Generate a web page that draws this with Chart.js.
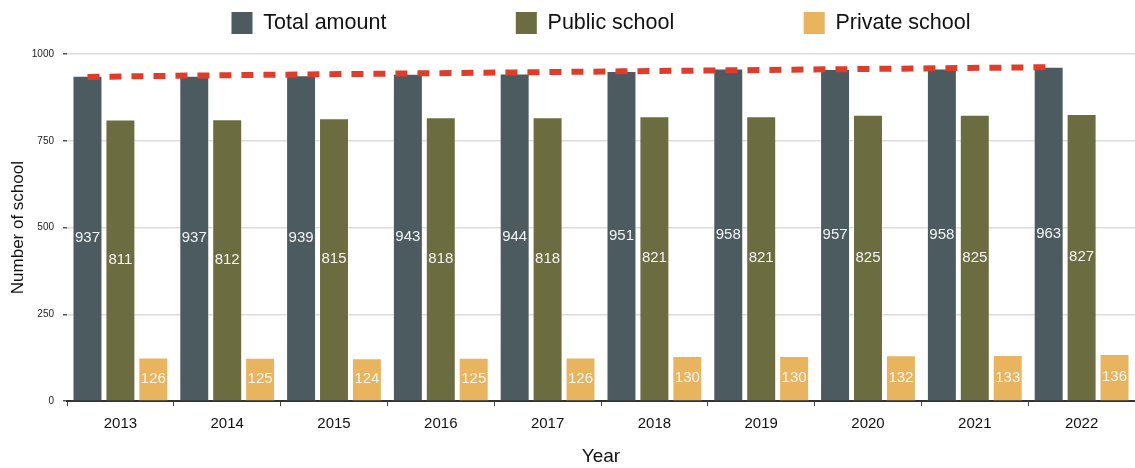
<!DOCTYPE html>
<html>
<head>
<meta charset="utf-8">
<script src="https://cdn.jsdelivr.net/npm/chart.js@4.4.0/dist/chart.umd.min.js"></script>
<style>
    html, body { margin: 0; padding: 0; background: #fff; }
    #wrap { width: 1135px; height: 468px; }
</style>
</head>
<body>
<div id="wrap"><canvas id="chart-schools"></canvas></div>
<script>
const years = ['2013', '2014', '2015', '2016', '2017', '2018', '2019', '2020', '2021', '2022'];
const totalAmount = [937, 937, 939, 943, 944, 951, 958, 957, 958, 963];
const publicSchool = [811, 812, 815, 818, 818, 821, 821, 825, 825, 827];
const privateSchool = [126, 125, 124, 125, 126, 130, 130, 132, 133, 136];
const totalTrend = [934, 938, 941, 944, 947, 950, 953, 956, 959, 962];
const yTicks = [0, 250, 500, 750, 1000];

const FONT = "'Liberation Sans', Arial, Helvetica, sans-serif";

// writes each bar's value in the middle of the bar
const barValues = {
    id: 'barValues',
    afterDatasetsDraw(chart) {
        const ctx = chart.ctx;
        ctx.save();
        ctx.font = '15px ' + FONT;
        ctx.fillStyle = '#f4f4f4';
        ctx.textAlign = 'center';
        ctx.textBaseline = 'middle';
        chart.data.datasets.forEach((ds, i) => {
            if (ds.type === 'line') return;
            const meta = chart.getDatasetMeta(i);
            meta.data.forEach((bar, j) => {
                ctx.fillText(String(ds.data[j]), bar.x, (bar.y + bar.base) / 2);
            });
        });
        ctx.restore();
    }
};

// the trend runs over the "Total amount" bars, not the category centres
const trendShift = {
    id: 'trendShift',
    beforeDatasetDraw(chart, args) {
        if (args.meta.type !== 'line') return;
        const bars = chart.getDatasetMeta(1).data;
        const dx = bars.length ? bars[0].x - chart.scales.x.getPixelForValue(0) : 0;
        chart.ctx.save();
        chart.ctx.translate(dx, 0);
    },
    afterDatasetDraw(chart, args) {
        if (args.meta.type !== 'line') return;
        chart.ctx.restore();
    }
};

// a bit more room between the legend and the plot
const legendGap = {
    id: 'legendGap',
    beforeInit(chart) {
        const legend = chart.legend;
        if (!legend) return;
        const fit = legend.fit;
        legend.fit = function () {
            fit.call(this);
            this.height += 10;
        };
    }
};

// extra room after each legend entry
const gap = ' '.repeat(20);

new Chart(document.getElementById('chart-schools'), {
    type: 'bar',
    data: {
        labels: years,
        datasets: [
            {
                type: 'line',
                label: 'Trend',
                data: totalTrend,
                borderColor: '#e13b29',
                borderWidth: 6,
                borderDash: [12, 10],
                pointRadius: 0,
                fill: false,
                order: 0
            },
            {
                label: 'Total amount',
                data: totalAmount,
                backgroundColor: '#4b5b5f',
                borderColor: 'rgba(255,255,255,0.35)',
                borderWidth: 1,
                categoryPercentage: 0.925,
                barPercentage: 0.91,
                order: 1
            },
            {
                label: 'Public school',
                data: publicSchool,
                backgroundColor: '#6b6c3f',
                borderColor: 'rgba(255,255,255,0.35)',
                borderWidth: 1,
                categoryPercentage: 0.925,
                barPercentage: 0.91,
                order: 1
            },
            {
                label: 'Private school',
                data: privateSchool,
                backgroundColor: '#e8b55e',
                borderColor: 'rgba(255,255,255,0.35)',
                borderWidth: 1,
                categoryPercentage: 0.925,
                barPercentage: 0.91,
                order: 1
            }
        ]
    },
    options: {
        responsive: true,
        maintainAspectRatio: false,
        animation: false,
        layout: { padding: { left: 0, right: 0, top: 2, bottom: 0 } },
        plugins: {
            legend: {
                position: 'top',
                fullSize: false,
                labels: {
                    boxWidth: 21,
                    boxHeight: 22,
                    padding: 10,
                    color: '#111',
                    font: { family: FONT, size: 21.5 },
                    generateLabels: chart => {
                        const items = Chart.defaults.plugins.legend.labels.generateLabels(chart)
                            .filter(it => it.datasetIndex !== 0);
                        items.forEach(it => {
                            it.lineWidth = 0;
                            if (it.text !== 'Private school') it.text = it.text + gap;
                        });
                        return items;
                    }
                }
            },
            tooltip: { enabled: false }
        },
        scales: {
            x: {
                type: 'category',
                offset: true,
                grid: { drawOnChartArea: false, offset: true, tickLength: 5, color: '#444' },
                border: { color: '#333', width: 2 },
                ticks: { color: '#111', font: { family: FONT, size: 15 }, padding: 9 },
                title: { display: true, text: 'Year', color: '#111', font: { family: FONT, size: 19 }, padding: { top: 3, bottom: 0 } }
            },
            y: {
                min: 0,
                max: 1000,
                afterBuildTicks: scale => { scale.ticks = yTicks.map(v => ({ value: v })); },
                afterFit: scale => { scale.width = 67; },
                grid: { color: '#dcdcdc', lineWidth: 1.5, tickLength: 4, tickColor: '#555' },
                border: { display: false },
                ticks: {
                    color: '#222',
                    font: { family: FONT, size: 10 },
                    padding: 9,
                    callback: v => String(v)
                },
                title: { display: true, text: 'Number of school', color: '#111', font: { family: FONT, size: 17 }, padding: { top: 8, bottom: 3 } }
            }
        }
    },
    plugins: [barValues, trendShift, legendGap]
});
</script>
</body>
</html>
